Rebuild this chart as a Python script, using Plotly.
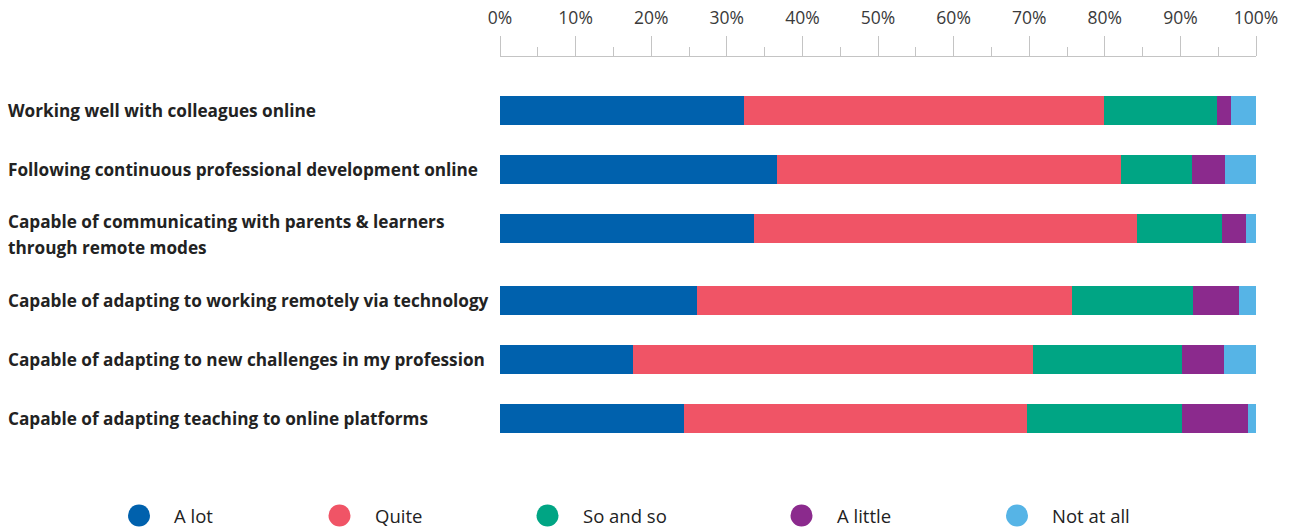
import plotly.graph_objects as go

# Survey items (top to bottom) and share of answers per category, in %
items = [
    "Working well with colleagues online",
    "Following continuous professional development online",
    "Capable of communicating with parents & learners<br>through remote modes",
    "Capable of adapting to working remotely via technology",
    "Capable of adapting to new challenges in my profession",
    "Capable of adapting teaching to online platforms",
]
categories = ["A lot", "Quite", "So and so", "A little", "Not at all"]
a_lot = [32.3, 36.7, 33.6, 26.1, 17.6, 24.3]
quite = [47.6, 45.5, 50.6, 49.6, 52.9, 45.4]
so_and_so = [15.0, 9.3, 11.3, 15.9, 19.7, 20.5]
a_little = [1.8, 4.4, 3.2, 6.2, 5.6, 8.8]
not_at_all = [3.3, 4.1, 1.3, 2.2, 4.2, 1.0]
tick_values = [0, 10, 20, 30, 40, 50, 60, 70, 80, 90, 100]
tick_labels = ["0%", "10%", "20%", "30%", "40%", "50%", "60%", "70%", "80%", "90%", "100%"]

series = [a_lot, quite, so_and_so, a_little, not_at_all]
colors = ["#0061ad", "#f05466", "#00a584", "#8b2a8d", "#56b4e6"]

# ---- layout geometry (pixels) ----
W, H = 1290, 528
M_L, M_R, M_T, M_B = 500, 34, 57, 71
PLOT_W = W - M_L - M_R
PLOT_H = H - M_T - M_B
ROW_STEP = 59          # distance between bar centres
EXTRA_PER_LINE = 13    # extra space after a row whose label wraps
FIRST_ROW = 53.5       # first bar centre below the axis line
BAR_W = 29
LINE_H = 26
LABEL_FONT = "Open Sans"

# vertical positions of the rows (y axis runs in pixels, downwards)
row_pos = []
y = 0.0
for i, lab in enumerate(items):
    row_pos.append(y)
    y += ROW_STEP + EXTRA_PER_LINE * (lab.count("<br>"))


def px_x(px):
    return (px - M_L) / PLOT_W


def px_y(py):
    return (H - M_B - py) / PLOT_H


fig = go.Figure()
for name, vals, col in zip(categories, series, colors):
    fig.add_trace(go.Bar(
        x=vals, y=row_pos, name=name, orientation="h", width=BAR_W,
        marker=dict(color=col, line=dict(width=0)),
        hoverinfo="skip", showlegend=False,
    ))

annotations = []
# row labels, left aligned, one annotation per text line
for lab, pos in zip(items, row_pos):
    lines = lab.split("<br>")
    n = len(lines)
    shift = 5.5 if n > 1 else 0
    for k, line in enumerate(lines):
        annotations.append(dict(
            text=line, xref="paper", yref="y",
            x=px_x(5.5), y=pos + (k - (n - 1) / 2) * LINE_H + shift,
            xanchor="left", yanchor="middle", showarrow=False,
            font=dict(family=LABEL_FONT, size=17.2, color="#222222", weight=700),
        ))

# legend: coloured dots followed by the category name
legend_x = [139, 339.5, 547.5, 801.5, 1017]
legend_y = 515.5
DOT = 22
shapes = []
for name, col, cx in zip(categories, colors, legend_x):
    shapes.append(dict(
        type="circle", xref="paper", yref="paper",
        x0=px_x(cx - DOT / 2), x1=px_x(cx + DOT / 2),
        y0=px_y(legend_y + DOT / 2), y1=px_y(legend_y - DOT / 2),
        fillcolor=col, line=dict(width=0),
    ))
    annotations.append(dict(
        text=name, xref="paper", yref="paper",
        x=px_x(cx + 33), y=px_y(legend_y),
        xanchor="left", yanchor="middle", showarrow=False,
        font=dict(family=LABEL_FONT, size=18.5, color="#222222"),
    ))

fig.update_layout(
    width=W, height=H,
    margin=dict(l=M_L, r=M_R, t=M_T, b=M_B, pad=0, autoexpand=False),
    barmode="stack",
    plot_bgcolor="white", paper_bgcolor="white",
    showlegend=False,
    annotations=annotations,
    shapes=shapes,
    xaxis=dict(
        side="top", range=[0, 100], fixedrange=True, automargin=False,
        tickmode="array", tickvals=tick_values, ticktext=tick_labels,
        ticks="outside", ticklen=20, tickwidth=1, tickcolor="#c4c4c4",
        showline=True, linecolor="#c4c4c4", linewidth=1,
        showgrid=False, zeroline=False,
        minor=dict(dtick=5, tick0=0, ticks="outside", ticklen=9,
                   tickwidth=1, tickcolor="#c4c4c4", showgrid=False),
        tickfont=dict(family=LABEL_FONT, size=17.5, color="#3a3a3a"),
        ticklabelstandoff=5,
    ),
    yaxis=dict(
        range=[PLOT_H - FIRST_ROW, -FIRST_ROW], fixedrange=True, automargin=False,
        showticklabels=False, showgrid=False, zeroline=False,
        showline=False, ticks="",
    ),
)

fig.write_html("out.html", config={"displayModeBar": False})
